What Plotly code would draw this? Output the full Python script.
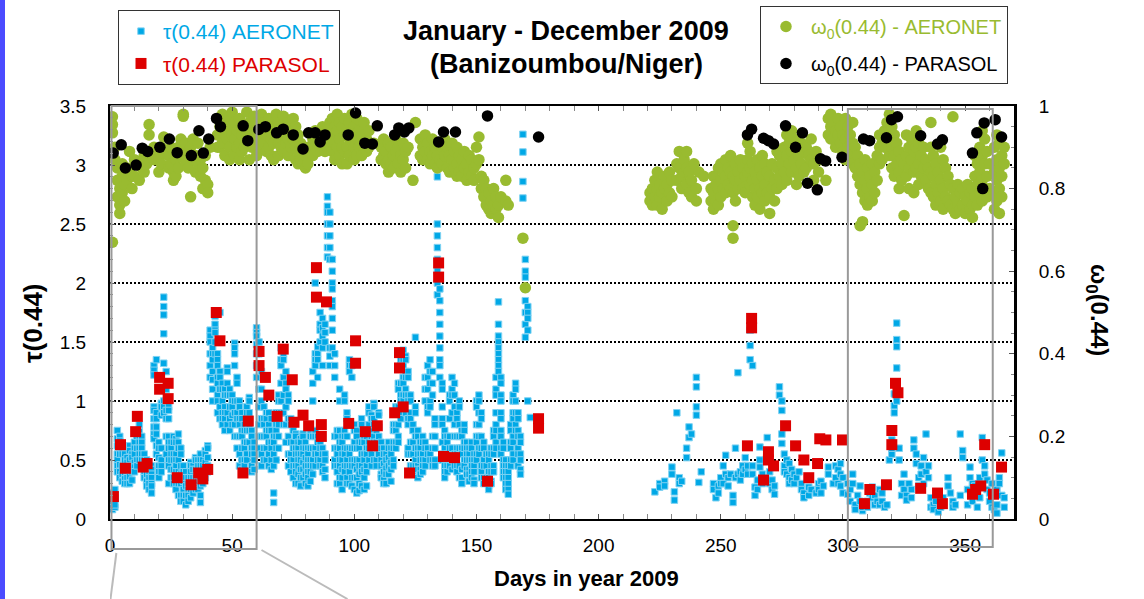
import plotly.graph_objects as go

# ---------------- data ----------------
# AERONET aerosol optical depth tau(0.44): (day, [values measured that day])
aer_tau_obs = [
    (1, [0.08, 0.12, 0.15, 0.2, 0.22]), (2, [0.1, 0.12, 0.18, 0.25]),
    (3, [0.75, 0.68, 0.62, 0.55, 0.5, 0.45, 0.4]), (4, [0.7, 0.66, 0.55, 0.46, 0.4, 0.35]),
    (5, [0.6, 0.55, 0.45, 0.38, 0.32]), (6, [0.55, 0.5, 0.42, 0.38, 0.34, 0.3]),
    (7, [0.52, 0.48, 0.4, 0.35, 0.3]), (8, [0.62, 0.58, 0.5, 0.45, 0.4, 0.36, 0.3]),
    (9, [0.55, 0.52, 0.45, 0.4, 0.33]), (10, [0.65, 0.6, 0.55, 0.48, 0.44, 0.4]),
    (11, [0.72, 0.7, 0.6, 0.5, 0.45]), (12, [0.8, 0.74, 0.7, 0.65, 0.6, 0.55, 0.5]),
    (13, [0.7, 0.65, 0.6, 0.55, 0.5, 0.45]), (14, [0.55, 0.5, 0.45, 0.4, 0.35]),
    (15, [0.5, 0.45, 0.4, 0.38, 0.32, 0.28]), (16, [0.45, 0.4, 0.35, 0.3, 0.25]),
    (17, [0.45, 0.42, 0.38, 0.35, 0.3, 0.28, 0.22]),
    (18, [1.3, 1.26, 1.22, 0.95, 0.92, 0.85, 0.78, 0.72, 0.68]),
    (19, [1.35, 0.9, 0.85, 0.78, 0.72, 0.62, 0.55]), (20, [0.65, 0.6, 0.52, 0.45, 0.4, 0.35]),
    (21, [0.98, 0.95, 0.88, 0.6, 0.5, 0.45, 0.4]), (22, [1.88, 1.8, 1.73, 1.57, 1.32, 1.0, 0.95, 0.9]),
    (23, [1.25, 1.1, 1.0, 0.92, 0.85, 0.7, 0.55]), (24, [0.95, 0.92, 0.85, 0.7, 0.65, 0.6, 0.5, 0.45, 0.3]),
    (25, [0.65, 0.6, 0.55, 0.5, 0.42, 0.35]), (26, [0.7, 0.65, 0.55, 0.5, 0.42, 0.35, 0.3]),
    (27, [0.68, 0.65, 0.55, 0.5, 0.45, 0.4, 0.3, 0.25]), (28, [0.72, 0.65, 0.6, 0.5, 0.4, 0.3, 0.2]),
    (29, [0.6, 0.55, 0.45, 0.38, 0.3, 0.2, 0.15]), (30, [0.45, 0.4, 0.35, 0.32, 0.25, 0.2, 0.15]),
    (31, [0.4, 0.35, 0.3, 0.28, 0.2, 0.12]), (32, [0.35, 0.3, 0.25, 0.2, 0.15]),
    (33, [0.48, 0.45, 0.4, 0.35, 0.3, 0.25, 0.18]), (34, [0.45, 0.42, 0.35, 0.3, 0.22]),
    (35, [0.52, 0.5, 0.42, 0.35, 0.3, 0.25]), (36, [0.5, 0.45, 0.38, 0.32, 0.25]),
    (37, [0.55, 0.5, 0.45, 0.4, 0.34, 0.28, 0.2, 0.14]), (38, [0.5, 0.45, 0.4, 0.38, 0.3]),
    (39, [0.58, 0.55, 0.48, 0.4, 0.35]), (40, [0.62, 0.6, 0.52, 0.45, 0.4]),
    (41, [1.6, 1.55, 1.5, 1.4, 1.3, 1.2]), (42, [1.45, 1.4, 1.35, 1.25, 1.18, 1.1, 1.0]),
    (43, [1.72, 1.65, 1.6, 1.58, 1.5, 1.4]), (44, [1.4, 1.35, 1.3, 1.2, 1.15, 1.05, 1.0, 0.9]),
    (45, [1.75, 1.25, 1.2, 1.1, 0.95, 0.85]), (46, [1.15, 1.1, 1.0, 0.9, 0.85, 0.8]),
    (47, [1.1, 1.05, 0.95, 0.9, 0.85, 0.75]), (48, [1.28, 1.25, 1.15, 1.05, 0.9, 0.8]),
    (49, [1.1, 1.05, 0.95, 0.85, 0.75]), (50, [1.05, 1.0, 0.95, 0.88, 0.8]),
    (51, [1.49, 1.45, 1.4, 1.3, 1.0, 0.9, 0.8, 0.7]), (52, [1.2, 1.15, 1.0, 0.9, 0.85, 0.7, 0.6]),
    (53, [1.0, 0.95, 0.85, 0.8, 0.7, 0.55, 0.45]), (54, [0.9, 0.85, 0.75, 0.7, 0.6, 0.5, 0.42]),
    (55, [0.8, 0.75, 0.65, 0.6, 0.5, 0.45, 0.4]), (56, [0.95, 0.9, 0.75, 0.65, 0.55, 0.5]),
    (57, [1.03, 1.0, 0.9, 0.8, 0.75, 0.65]), (58, [0.75, 0.7, 0.6, 0.55, 0.45, 0.4]),
    (59, [0.65, 0.6, 0.55, 0.5, 0.42]), (60, [1.62, 1.58, 1.55, 1.48, 1.4, 1.3, 1.2]),
    (61, [1.5, 1.4, 1.1, 0.95, 0.8, 0.7, 0.6]), (62, [1.25, 1.1, 1.0, 0.85, 0.7, 0.55, 0.45]),
    (63, [0.95, 0.85, 0.8, 0.7, 0.6, 0.5]), (64, [0.9, 0.85, 0.75, 0.7, 0.6, 0.5]),
    (65, [0.9, 0.8, 0.75, 0.65, 0.55, 0.45]), (66, [0.85, 0.75, 0.65, 0.6, 0.5, 0.42]),
    (67, [0.7, 0.65, 0.55, 0.45, 0.22, 0.14]), (68, [0.9, 0.8, 0.75, 0.7, 0.6, 0.5]),
    (69, [1.05, 1.0, 0.9, 0.8, 0.7, 0.6]), (70, [1.45, 1.35, 1.3, 1.15, 1.0, 0.9]),
    (71, [1.4, 1.35, 1.2, 1.05, 0.9, 0.8]), (72, [1.25, 1.15, 1.1, 0.95, 0.8, 0.65]),
    (73, [1.05, 1.0, 0.85, 0.7, 0.55, 0.45]), (74, [0.85, 0.8, 0.65, 0.55, 0.5, 0.4]),
    (75, [0.78, 0.75, 0.65, 0.6, 0.5, 0.45, 0.35]), (76, [0.72, 0.7, 0.6, 0.55, 0.45, 0.4, 0.3]),
    (77, [0.65, 0.6, 0.55, 0.5, 0.45, 0.38, 0.3]), (78, [0.68, 0.65, 0.55, 0.5, 0.42, 0.35, 0.28]),
    (79, [0.72, 0.7, 0.6, 0.55, 0.48, 0.42, 0.35]), (80, [0.65, 0.6, 0.52, 0.45, 0.38, 0.3]),
    (81, [0.6, 0.55, 0.5, 0.45, 0.4, 0.35, 0.28]), (82, [0.72, 0.7, 0.6, 0.5, 0.45, 0.4, 0.32]),
    (83, [1.25, 1.15, 1.0, 0.7, 0.6, 0.5, 0.45, 0.38]),
    (84, [2.0, 1.4, 1.35, 1.3, 0.75, 0.7, 0.6, 0.55, 0.45]),
    (85, [1.46, 1.4, 1.35, 1.2, 0.7, 0.65, 0.55, 0.5]),
    (86, [1.75, 1.65, 1.6, 1.5, 0.65, 0.6, 0.5, 0.45]),
    (87, [1.7, 1.62, 1.55, 1.45, 1.3, 0.6, 0.55, 0.45, 0.4]),
    (88, [1.65, 1.58, 1.5, 0.55, 0.5, 0.42, 0.35]),
    (89, [2.73, 2.65, 2.6, 2.5, 2.4, 2.3, 2.22]),
    (90, [2.6, 2.5, 2.4, 2.3, 2.2, 1.45, 1.38, 1.3]),
    (91, [2.2, 2.1, 2.0, 1.95, 1.85, 1.8, 1.7, 1.6, 1.45]),
    (92, [1.4, 1.3, 1.2, 0.7, 0.6, 0.5, 0.45]), (93, [0.75, 0.7, 0.6, 0.55, 0.45, 0.4, 0.3]),
    (94, [1.1, 1.0, 0.75, 0.65, 0.6, 0.5, 0.45, 0.35, 0.3]),
    (95, [0.7, 0.65, 0.55, 0.5, 0.42, 0.35, 0.25]),
    (96, [1.05, 1.0, 0.75, 0.7, 0.6, 0.55, 0.45, 0.4]),
    (97, [0.9, 0.85, 0.7, 0.6, 0.5, 0.45, 0.35, 0.3]),
    (98, [1.35, 1.3, 1.25, 0.6, 0.55, 0.45, 0.4, 0.3]),
    (99, [1.3, 1.2, 0.6, 0.5, 0.45, 0.35, 0.28]),
    (100, [0.8, 0.75, 0.65, 0.6, 0.5, 0.45, 0.35, 0.25]),
    (101, [0.75, 0.7, 0.6, 0.5, 0.42, 0.35, 0.22]), (102, [0.65, 0.6, 0.5, 0.45, 0.38, 0.3, 0.24]),
    (103, [0.85, 0.8, 0.65, 0.55, 0.45, 0.4, 0.28]), (104, [0.7, 0.65, 0.55, 0.5, 0.42, 0.35, 0.25]),
    (105, [0.75, 0.7, 0.6, 0.55, 0.45, 0.4, 0.28]), (106, [0.95, 0.9, 0.8, 0.75, 0.65, 0.6, 0.5]),
    (107, [0.88, 0.85, 0.75, 0.7, 0.6, 0.55, 0.45]), (108, [0.98, 0.95, 0.85, 0.8, 0.7, 0.65, 0.5]),
    (109, [0.8, 0.75, 0.65, 0.6, 0.5, 0.45]), (110, [0.9, 0.88, 0.78, 0.7, 0.6, 0.55]),
    (111, [0.65, 0.6, 0.5, 0.45, 0.38, 0.35]), (112, [0.6, 0.55, 0.47, 0.4, 0.33, 0.3]),
    (113, [0.55, 0.5, 0.43, 0.38, 0.3]), (114, [0.65, 0.6, 0.52, 0.45, 0.38]),
    (115, [0.6, 0.55, 0.48, 0.42, 0.32]), (116, [0.8, 0.75, 0.65, 0.6, 0.5, 0.45]),
    (117, [0.95, 0.9, 0.8, 0.75, 0.65, 0.6]), (118, [1.15, 1.1, 0.95, 0.9, 0.8, 0.7, 0.65]),
    (119, [1.35, 1.3, 1.15, 1.05, 1.0, 0.9, 0.85]), (120, [1.43, 1.35, 1.3, 1.2, 1.15, 1.05, 1.0]),
    (121, [1.38, 1.35, 1.25, 1.2, 1.1, 1.05, 0.9]), (122, [1.25, 1.2, 1.05, 1.0, 0.85, 0.8, 0.6, 0.55]),
    (123, [1.05, 1.0, 0.9, 0.85, 0.65, 0.55, 0.45]), (124, [0.8, 0.75, 0.65, 0.55, 0.45, 0.4]),
    (125, [1.54, 0.95, 0.9, 0.7, 0.6, 0.5, 0.45]), (126, [0.75, 0.7, 0.6, 0.55, 0.45, 0.42, 0.35]),
    (127, [0.65, 0.6, 0.55, 0.5, 0.42, 0.38]), (128, [0.7, 0.65, 0.55, 0.5, 0.45, 0.4]),
    (129, [1.2, 1.1, 1.0, 0.65, 0.6, 0.5, 0.45]), (130, [1.3, 1.2, 1.1, 0.95, 0.9, 0.6, 0.55]),
    (131, [1.35, 1.25, 1.15, 1.0, 0.95, 0.55, 0.5]), (132, [1.25, 1.15, 1.05, 0.7, 0.6, 0.5, 0.45]),
    (133, [0.85, 0.8, 0.7, 0.6, 0.5, 0.45]), (134, [2.9, 2.5, 2.4, 2.3, 2.2, 2.1, 2.0, 1.9]),
    (135, [1.95, 1.85, 1.75, 1.65, 1.55, 1.45, 1.35, 1.3, 1.2]),
    (136, [1.15, 1.1, 0.95, 0.85, 0.8, 0.65, 0.55, 0.5]), (137, [0.75, 0.7, 0.6, 0.55, 0.45, 0.4, 0.35]),
    (138, [0.7, 0.65, 0.55, 0.5, 0.45, 0.4]), (139, [1.05, 1.0, 0.85, 0.7, 0.6, 0.5, 0.45]),
    (140, [1.2, 1.1, 1.05, 0.9, 0.6, 0.5, 0.42]), (141, [1.15, 1.05, 0.95, 0.8, 0.7, 0.55, 0.45]),
    (142, [0.9, 0.85, 0.7, 0.6, 0.55, 0.45, 0.4]), (143, [1.0, 0.95, 0.8, 0.7, 0.6, 0.45, 0.35]),
    (144, [0.75, 0.7, 0.6, 0.55, 0.42, 0.35, 0.3]), (145, [0.8, 0.75, 0.65, 0.6, 0.5, 0.45]),
    (146, [0.65, 0.6, 0.55, 0.5, 0.42, 0.38]), (147, [0.6, 0.55, 0.5, 0.42, 0.38, 0.32]),
    (148, [0.65, 0.6, 0.5, 0.45, 0.4, 0.35]), (149, [0.55, 0.5, 0.45, 0.4, 0.33, 0.3]),
    (150, [1.0, 0.95, 0.8, 0.7, 0.65, 0.55, 0.5]), (151, [1.05, 1.0, 0.9, 0.8, 0.7, 0.6, 0.55]),
    (152, [0.9, 0.85, 0.7, 0.6, 0.45, 0.4, 0.35]), (153, [0.65, 0.6, 0.5, 0.45, 0.35, 0.3]),
    (154, [0.55, 0.45, 0.35]), (155, [0.55, 0.5, 0.4, 0.35, 0.28, 0.25]),
    (156, [0.6, 0.55, 0.45, 0.4, 0.32, 0.3]), (157, [0.75, 0.7, 0.6, 0.55, 0.45, 0.4]),
    (158, [1.2, 1.1, 1.05, 0.9, 0.8, 0.75, 0.65, 0.6]),
    (159, [1.84, 1.65, 1.55, 1.5, 1.45, 1.4, 1.35, 1.3, 1.25]),
    (160, [1.2, 1.15, 1.05, 1.0, 0.9, 0.85, 0.75, 0.7, 0.6, 0.55]),
    (161, [0.65, 0.6, 0.5, 0.45, 0.4, 0.35]), (162, [0.5, 0.45, 0.4, 0.35, 0.3, 0.25]),
    (163, [0.45, 0.4, 0.35, 0.3, 0.25, 0.21]), (164, [0.8, 0.75, 0.65, 0.6, 0.5, 0.45]),
    (165, [1.05, 1.0, 0.9, 0.85, 0.7, 0.65, 0.55, 0.5]), (166, [1.15, 1.1, 1.0, 0.9, 0.8, 0.75]),
    (167, [0.9, 0.85, 0.75, 0.7, 0.6, 0.55, 0.45]), (168, [0.7, 0.65, 0.55, 0.5, 0.42, 0.38]),
    (169, [3.26, 3.11, 2.86, 2.72]), (170, [2.2, 2.1, 2.05, 1.95, 1.85, 1.75, 1.65, 1.54]),
    (171, [1.8, 1.75, 1.7, 1.6, 1.0]), (172, [0.86]),
    (223, [0.23]), (225, [0.3, 0.27]), (227, [0.32, 0.28]), (230, [0.44, 0.38]), (231, [0.23, 0.16]),
    (232, [0.9]), (233, [0.35, 0.3]), (234, [0.32]), (236, [0.52, 0.6]), (237, [0.69, 0.78]),
    (238, [0.72]), (240, [1.2, 1.12, 0.95, 0.88]), (241, [0.31]), (242, [0.4]), (247, [0.3, 0.25]),
    (248, [0.18]), (249, [0.28, 0.22]), (250, [0.35, 0.3]), (251, [0.45, 0.3]), (252, [0.54, 0.38]),
    (253, [0.35, 0.28]), (254, [0.38]), (255, [0.14, 0.2]), (256, [0.6, 0.35]), (257, [1.24, 0.38]),
    (258, [0.4, 0.33]), (259, [0.45, 0.38]), (260, [0.52, 0.42]), (261, [0.45, 0.38]),
    (262, [1.6, 1.47, 1.35]), (263, [1.3, 0.45, 0.38]), (264, [0.27, 0.2]), (265, [0.33, 0.25]),
    (266, [0.61, 0.5, 0.44]), (267, [0.38, 0.3]), (269, [0.69]), (270, [0.4, 0.3]), (271, [0.33, 0.25]),
    (272, [0.28, 0.21]), (274, [1.12, 1.05]), (275, [1.0, 0.92, 0.72, 0.64]), (276, [0.55, 0.45, 0.4]),
    (277, [0.5, 0.38]), (278, [0.47, 0.35, 0.3]), (279, [0.42, 0.33]), (280, [0.38, 0.3]), (281, [0.35]),
    (282, [0.4]), (283, [0.3, 0.25]), (284, [0.22, 0.18]), (286, [0.27, 0.2]), (287, [0.25]),
    (289, [0.22]), (290, [0.3, 0.25]), (291, [0.32, 0.22]), (292, [0.28]), (294, [0.44, 0.38]),
    (296, [0.3]), (297, [0.45, 0.35]), (298, [0.42, 0.3]), (299, [0.47, 0.38, 0.28]), (300, [0.35, 0.22]),
    (302, [0.3, 0.21]), (303, [0.25, 0.15]), (304, [0.38, 0.3]), (305, [0.12, 0.08]), (306, [0.2]),
    (307, [0.28, 0.15]), (308, [0.07, 0.1]), (310, [0.15, 0.1]), (311, [0.22]), (312, [0.27, 0.18]),
    (313, [0.2, 0.12]), (314, [0.15]), (315, [0.25, 0.12]), (316, [0.22, 0.15]), (317, [0.1]),
    (318, [0.12]), (319, [0.5]), (320, [0.67, 0.55, 0.6]), (321, [1.06, 0.96, 0.9]),
    (322, [1.66, 1.52, 1.46, 1.28, 1.0]), (323, [0.6, 0.5]), (324, [0.3, 0.2]), (325, [0.38, 0.25]),
    (326, [0.2, 0.16]), (327, [0.3]), (328, [0.25, 0.18]), (329, [0.67, 0.6]), (330, [0.55, 0.47]),
    (331, [0.35, 0.28]), (332, [0.45, 0.38]), (333, [0.52, 0.3]), (334, [0.72, 0.4]), (335, [0.35, 0.45]),
    (336, [0.18, 0.1]), (337, [0.12, 0.08]), (338, [0.15]), (339, [0.06]), (340, [0.1]), (341, [0.18]),
    (343, [0.35, 0.28]), (344, [0.22]), (345, [0.15, 0.1]), (346, [0.12]), (348, [0.72, 0.2]),
    (349, [0.58, 0.52]), (351, [0.25, 0.12]), (352, [0.44, 0.35]), (353, [0.3, 0.15]), (354, [0.28, 0.2]),
    (355, [0.22, 0.1]), (356, [0.35, 0.18]), (357, [0.69, 0.5]), (358, [0.45, 0.38]), (359, [0.33, 0.25]),
    (360, [0.22, 0.15]), (361, [0.3, 0.1]), (362, [0.2, 0.08]), (363, [0.05, 0.12, 0.25]),
    (364, [0.35, 0.3]), (365, [0.56, 0.45, 0.2]), (366, [0.18, 0.1]),
]

# PARASOL tau(0.44)
par_tau_day = [1.4, 4.3, 6.3, 10.5, 11.2, 13.6, 15.2, 20.3, 20.3, 23.8, 23.8, 27.5, 33.2, 36.3, 38, 40,
               43.5, 45, 54.4, 56.6, 61, 61, 63.6, 65, 68.4, 70.9, 74.6, 75.3, 79, 81.3, 84.5, 84.5,
               86.5, 86.5, 88.6, 97.7, 100.5, 100.5, 104.5, 107.5, 109.4, 116.5, 118.5, 118.5, 120,
               122.6, 134.5, 134.5, 136.5, 141, 154.5, 175.4, 175.4,
               260.9, 262.6, 262.6, 267.5, 269.5, 269.5, 271.6, 276.5, 280.6, 284, 286, 289.6, 290.5,
               293, 299.8, 308.8, 311, 317.8, 320, 320, 321.5, 322.5, 331.8, 338.7, 340.7, 353, 354.3,
               356.4, 358, 361.6, 364.9]
par_tau_val = [0.19, 0.63, 0.43, 0.74, 0.87, 0.44, 0.47, 1.2, 1.1, 1.15, 1.02, 0.35, 0.29, 0.39, 0.34, 0.42,
               1.75, 1.51, 0.39, 0.83, 1.42, 1.3, 1.2, 1.05, 0.87, 1.44, 1.18, 0.82, 0.88, 0.79, 2.13, 1.88,
               0.7, 0.8, 1.84, 0.81, 1.51, 1.32, 0.74, 0.62, 0.79, 0.9, 1.41, 1.28, 0.95,
               0.39, 2.17, 2.05, 0.53, 0.52, 0.32, 0.85, 0.77,
               0.62, 1.7, 1.62, 0.33, 0.57, 0.5, 0.45, 0.79, 0.62, 0.5, 0.35, 0.47, 0.68,
               0.67, 0.67, 0.13, 0.25, 0.29, 0.75, 0.63, 1.15, 1.07, 0.26, 0.22, 0.13, 0.21, 0.25,
               0.28, 0.63, 0.21, 0.44]

# AERONET single scattering albedo w0(0.44): (day, [values])
aer_w_obs = [
    (1, [0.974, 0.955, 0.935, 0.877, 0.67]), (2, [0.9, 0.87]), (3, [0.85, 0.82, 0.78]), (4, [0.8, 0.76, 0.74]),
    (5, [0.86, 0.83, 0.79]), (6, [0.81, 0.77]), (7, [0.85, 0.82]), (8, [0.89, 0.84]), (9, [0.83, 0.8]),
    (10, [0.87, 0.83]), (12, [0.86, 0.82]), (13, [0.85]), (14, [0.88, 0.84]), (15, [0.86]),
    (16, [0.955, 0.93]), (18, [0.9, 0.87]), (19, [0.88]), (20, [0.87, 0.84]), (21, [0.9, 0.86]),
    (22, [0.925, 0.89]), (24, [0.88, 0.85]), (25, [0.9, 0.86]), (26, [0.89, 0.84, 0.82]),
    (27, [0.87, 0.83]), (28, [0.9, 0.85]), (29, [0.92, 0.88]), (30, [0.98, 0.975]), (31, [0.91, 0.86]),
    (32, [0.89, 0.85]), (33, [0.78, 0.9]), (34, [0.92, 0.87]), (35, [0.88, 0.84]), (36, [0.91, 0.86]),
    (37, [0.87, 0.83]), (38, [0.85, 0.8]), (39, [0.88, 0.82]), (40, [0.81, 0.79]), (41, [0.9]),
    (44, [0.97, 0.93, 0.9]), (45, [0.95, 0.9]), (46, [0.98, 0.94, 0.91]), (47, [0.93, 0.88]),
    (48, [0.97, 0.92]), (49, [0.95, 0.9, 0.87]), (50, [0.985, 0.93]), (51, [0.96, 0.92, 0.88]),
    (52, [0.94, 0.9]), (53, [0.97, 0.91, 0.87]), (54, [0.93, 0.89]), (55, [0.95, 0.9]),
    (56, [0.985, 0.93]), (57, [0.96, 0.91, 0.87]), (58, [0.94, 0.9]), (59, [0.975, 0.92]),
    (60, [0.96, 0.92, 0.88]), (62, [0.98, 0.94, 0.9]), (63, [0.96, 0.91]), (64, [0.93, 0.89]),
    (65, [0.97, 0.94, 0.9]), (66, [0.92, 0.88]), (67, [0.95, 0.91, 0.87]), (68, [0.98, 0.93]),
    (69, [0.96, 0.91, 0.88]), (70, [0.94, 0.9]), (71, [0.975, 0.93, 0.89]), (72, [0.95, 0.91]),
    (73, [0.96, 0.92, 0.88]), (74, [0.94, 0.9]), (75, [0.97, 0.92]), (76, [0.95, 0.9, 0.87]),
    (77, [0.93, 0.89, 0.86]), (78, [0.91, 0.87]), (79, [0.9, 0.86]), (80, [0.88, 0.85]),
    (81, [0.9, 0.86]), (82, [0.89]), (83, [0.92, 0.88]), (84, [0.94, 0.9]), (85, [0.91, 0.89]),
    (86, [0.93, 0.9]), (87, [0.95, 0.91]), (88, [0.92, 0.89]), (89, [0.94, 0.9]), (90, [0.96, 0.92]),
    (91, [0.97, 0.93, 0.89]), (92, [0.95, 0.91, 0.87]), (93, [0.98, 0.94, 0.9]), (94, [0.96, 0.92, 0.88]),
    (95, [0.95, 0.9, 0.86]), (96, [0.97, 0.93, 0.89]), (97, [0.94, 0.9, 0.86]), (98, [0.96, 0.92, 0.88]),
    (99, [0.98, 0.93]), (100, [0.95, 0.9, 0.87]), (101, [0.97, 0.92, 0.88]), (102, [0.94, 0.9]),
    (103, [0.93, 0.88]), (104, [0.96, 0.91]), (105, [0.92, 0.89]), (106, [0.94, 0.9]), (108, [0.91]),
    (111, [0.9, 0.87]), (112, [0.92, 0.88]), (113, [0.89, 0.86]), (114, [0.91, 0.87, 0.84]),
    (115, [0.9, 0.86]), (116, [0.88, 0.85]), (117, [0.92, 0.89]), (118, [0.9, 0.86]), (119, [0.88, 0.84]),
    (120, [0.91, 0.87]), (121, [0.89, 0.85]), (122, [0.9]), (124, [0.82]), (125, [0.96]),
    (127, [0.92, 0.88]), (128, [0.9, 0.87]), (129, [0.93, 0.89]), (130, [0.91, 0.87]), (131, [0.89, 0.86]),
    (132, [0.92, 0.88]), (133, [0.9, 0.86]), (134, [0.88, 0.85]), (135, [0.91, 0.87]), (136, [0.9, 0.86]),
    (137, [0.92, 0.88]), (138, [0.9, 0.85]), (139, [0.88, 0.84]), (140, [0.91, 0.87]), (141, [0.89, 0.85]),
    (142, [0.9, 0.86, 0.83]), (143, [0.88, 0.84]), (144, [0.87, 0.83]), (145, [0.89, 0.85]),
    (146, [0.86, 0.82]), (147, [0.88, 0.84]), (148, [0.87, 0.83]), (149, [0.85, 0.82]), (150, [0.9, 0.86]),
    (151, [0.925, 0.87]), (152, [0.83, 0.8]), (153, [0.82, 0.78]), (154, [0.8, 0.76]), (155, [0.79, 0.75]),
    (156, [0.77, 0.74]), (157, [0.8, 0.76]), (158, [0.78, 0.75]), (159, [0.76, 0.73]), (160, [0.78]),
    (162, [0.82, 0.77]), (163, [0.76]), (169, [0.68]), (170, [0.56]),
    (221, [0.79, 0.77]), (222, [0.8, 0.76]), (223, [0.82, 0.78]), (224, [0.84, 0.8, 0.76]),
    (225, [0.81, 0.78]), (226, [0.79, 0.75]), (227, [0.83, 0.8]), (228, [0.81, 0.77]), (229, [0.84, 0.79]),
    (230, [0.82, 0.78]), (232, [0.86, 0.82]), (233, [0.89, 0.85]), (234, [0.83, 0.8]), (235, [0.87, 0.84]),
    (236, [0.89, 0.85, 0.81]), (237, [0.84, 0.79]), (238, [0.82, 0.78]), (239, [0.86]), (240, [0.8, 0.77]),
    (241, [0.84]), (243, [0.83]), (246, [0.8, 0.77]), (247, [0.83, 0.79, 0.75]), (248, [0.81, 0.77]),
    (249, [0.85, 0.8, 0.76]), (250, [0.86, 0.82, 0.78]), (251, [0.84, 0.8]), (252, [0.87, 0.83, 0.79]),
    (253, [0.85, 0.81]), (254, [0.88, 0.84, 0.8]), (255, [0.83, 0.79, 0.71, 0.68]), (256, [0.86, 0.82, 0.77]),
    (257, [0.84, 0.8]), (258, [0.87, 0.82]), (259, [0.85, 0.8]), (260, [0.83, 0.79]),
    (261, [0.91, 0.87, 0.84]), (262, [0.89, 0.85, 0.81]), (263, [0.86, 0.82, 0.78]), (264, [0.84, 0.8, 0.76]),
    (265, [0.87, 0.82, 0.78]), (266, [0.85, 0.8, 0.75]), (267, [0.88, 0.83, 0.79]), (268, [0.86, 0.81, 0.77]),
    (269, [0.84, 0.79]), (270, [0.83, 0.78, 0.74]), (271, [0.86, 0.8]), (272, [0.82, 0.77]),
    (273, [0.89, 0.85, 0.8]), (274, [0.88, 0.83]), (275, [0.86, 0.81]), (276, [0.9, 0.84]),
    (277, [0.93, 0.88, 0.82]), (278, [0.91, 0.86]), (279, [0.94, 0.89, 0.84]), (280, [0.92, 0.87]),
    (281, [0.9, 0.85, 0.81]), (282, [0.88, 0.83]), (283, [0.91, 0.86]), (284, [0.89, 0.84]),
    (285, [0.9, 0.85]), (286, [0.88]), (287, [0.92, 0.87]), (288, [0.86, 0.82]), (289, [0.89]),
    (290, [0.84]), (291, [0.87]), (293, [0.82]), (294, [0.97, 0.93]), (295, [0.98, 0.95, 0.92]),
    (296, [0.96, 0.92]), (297, [0.94, 0.9]), (298, [0.97, 0.93]), (299, [0.95, 0.91]), (300, [0.93, 0.89]),
    (301, [0.97, 0.92, 0.87]), (302, [0.95, 0.9]), (303, [0.93, 0.88]), (304, [0.96, 0.91, 0.86]),
    (305, [0.9, 0.85]), (306, [0.88, 0.83]), (307, [0.86, 0.81, 0.71]), (308, [0.84, 0.79, 0.72]),
    (309, [0.87, 0.82, 0.77]), (310, [0.85, 0.8, 0.76]), (311, [0.83, 0.78]), (312, [0.86, 0.81, 0.77]),
    (313, [0.84, 0.79]), (314, [0.88, 0.82]), (315, [0.93, 0.9, 0.86]), (316, [0.91, 0.87]),
    (317, [0.94, 0.9]), (318, [0.96, 0.92]), (319, [0.98, 0.93, 0.88]), (320, [0.95, 0.9, 0.85]),
    (321, [0.93, 0.88, 0.83]), (322, [0.91, 0.86]), (323, [0.89, 0.84, 0.8]), (324, [0.87, 0.82]),
    (325, [0.735, 0.86]), (326, [0.93, 0.88, 0.83]), (327, [0.9, 0.85, 0.8]), (328, [0.92, 0.87]),
    (329, [0.89, 0.84, 0.79]), (330, [0.94, 0.9, 0.85]), (331, [0.91, 0.86, 0.81]), (332, [0.88, 0.83]),
    (333, [0.9, 0.85]), (334, [0.87, 0.82]), (335, [0.85, 0.8]), (336, [0.96, 0.9, 0.84, 0.79]),
    (337, [0.88, 0.83, 0.78]), (338, [0.86, 0.81, 0.76]), (339, [0.84, 0.79]), (340, [0.9, 0.82, 0.77]),
    (341, [0.87, 0.8, 0.75]), (342, [0.85, 0.78]), (343, [0.83, 0.77]), (344, [0.81, 0.76]),
    (345, [0.974, 0.8, 0.75]), (346, [0.78, 0.74]), (347, [0.81, 0.76]), (348, [0.79, 0.75]),
    (349, [0.8, 0.76]), (350, [0.78, 0.74]), (351, [0.81, 0.77]), (352, [0.79, 0.75]),
    (353, [0.8, 0.76, 0.73]), (354, [0.88, 0.83, 0.78]), (355, [0.86, 0.81, 0.76]), (356, [0.9, 0.84, 0.79]),
    (357, [0.94, 0.88, 0.82, 0.77]), (358, [0.92, 0.86, 0.8]), (359, [0.89, 0.83, 0.78]), (360, [0.86, 0.8]),
    (362, [0.9, 0.84, 0.79, 0.75]), (363, [0.93, 0.87, 0.82, 0.77]), (364, [0.91, 0.85, 0.8, 0.74]),
    (365, [0.88, 0.83, 0.78]), (366, [0.9, 0.86]),
]

# PARASOL w0(0.44)
par_w_day = [1.3, 4.6, 6.3, 10.7, 13.2, 15.4, 20.4, 24.3, 27.5, 33.3, 36.4, 38.2, 40.4, 43.6, 45.2, 54.5,
             56.4, 60.9, 63.6, 68.2, 70.9, 75, 79, 81.3, 84, 86, 88, 97.5, 100.5, 104.3, 107.4, 109.4,
             116.5, 118.2, 120.5, 122.3, 134.5, 136.5, 141.4, 154.5, 175.4,
             260.9, 262.6, 267.5, 269.5, 271.6, 276.5, 280.6, 283.4, 285.5, 289.5, 290.8, 292.9, 299.6,
             308.4, 310.9, 317.8, 319.9, 322.3, 331.8, 338.7, 340.7, 353, 354.8, 357.2, 357.8, 362.3, 364.9]
par_w_val = [0.886, 0.906, 0.85, 0.857, 0.898, 0.89, 0.9, 0.92, 0.887, 0.88, 0.94, 0.886, 0.92, 0.97, 0.95, 0.952,
             0.916, 0.943, 0.95, 0.935, 0.944, 0.93, 0.896, 0.935, 0.935, 0.913, 0.93, 0.93, 0.983, 0.91, 0.908, 0.952,
             0.93, 0.947, 0.937, 0.947, 0.913, 0.937, 0.937, 0.976, 0.925,
             0.93, 0.944, 0.922, 0.916, 0.908, 0.952, 0.9, 0.935, 0.813, 0.797, 0.872, 0.867, 0.876,
             0.92, 0.916, 0.923, 0.967, 0.974, 0.928, 0.908, 0.918, 0.886, 0.935, 0.8, 0.959, 0.967, 0.925]

x_ticks = [0, 50, 100, 150, 200, 250, 300, 350]
tau_ticks = [0, 0.5, 1, 1.5, 2, 2.5, 3, 3.5]
w_ticks = [0, 0.2, 0.4, 0.6, 0.8, 1]

# ---------------- styling ----------------
FONT = "Liberation Sans, Arial, Helvetica, sans-serif"
BLUE = "#00a8e6"
BLUE_EDGE = "#7fd2f2"
RED = "#dd0000"
GREEN = "#99bb30"
BLACK = "#000000"


def flatten(obs):
    xs, ys = [], []
    for d, vals in obs:
        for v in vals:
            xs.append(d)
            ys.append(v)
    return xs, ys


ax_x, ax_y = flatten(aer_tau_obs)
aw_x, aw_y = flatten(aer_w_obs)

fig = go.Figure()
fig.add_trace(go.Scatter(
    x=ax_x, y=ax_y, mode="markers", yaxis="y", legend="legend", legendgroup="a",
    marker=dict(symbol="square", size=6.5, color=BLUE, line=dict(width=1, color=BLUE_EDGE)),
    name='<span style="color:#00a8e6">τ(0.44) AERONET</span>'))
fig.add_trace(go.Scatter(
    x=par_tau_day, y=par_tau_val, mode="markers", yaxis="y", legend="legend", legendgroup="b",
    marker=dict(symbol="square", size=11, color=RED, line=dict(width=0)),
    name='<span style="color:#dd0000">τ(0.44) PARASOL</span>'))
fig.add_trace(go.Scatter(
    x=aw_x, y=aw_y, mode="markers", yaxis="y2", legend="legend2", legendgroup="c",
    marker=dict(symbol="circle", size=11.5, color=GREEN, line=dict(width=0)),
    name='<span style="color:#99bb30">ω<sub>0</sub>(0.44) - AERONET</span>'))
fig.add_trace(go.Scatter(
    x=par_w_day, y=par_w_val, mode="markers", yaxis="y2", legend="legend2", legendgroup="d",
    marker=dict(symbol="circle", size=11.5, color=BLACK, line=dict(width=0)),
    name='ω<sub>0</sub>(0.44) - PARASOL'))

W, H = 1144, 599
L, R, T, B = 110, 130, 106, 80
PW, PH = W - L - R, H - T - B


def px(xp):
    return (xp - L) / PW


def py(yp):
    return (H - B - yp) / PH


tickfont = dict(family=FONT, size=19, color="black")

fig.update_layout(
    width=W, height=H,
    margin=dict(l=L, r=R, t=T, b=B, pad=0, autoexpand=False),
    paper_bgcolor="white", plot_bgcolor="white",
    font=dict(family=FONT, color="black"),
    showlegend=True,
    xaxis=dict(
        range=[0, 370], tickvals=x_ticks, ticks="inside", ticklen=5, tickwidth=1, tickcolor="#555",
        minor=dict(dtick=10, ticks="inside", ticklen=3, tickcolor="#888"),
        showline=True, linecolor="black", linewidth=2, mirror="allticks",
        showgrid=False, zeroline=False, tickfont=tickfont, ticklabelstandoff=8, automargin=False,
    ),
    yaxis=dict(
        range=[0, 3.5], tickvals=tau_ticks, ticks="inside", ticklen=5, tickcolor="#555",
        minor=dict(dtick=0.1, ticks="inside", ticklen=3, tickcolor="#888"),
        showline=True, linecolor="black", linewidth=2, mirror=True,
        showgrid=True, gridcolor="black", gridwidth=2, griddash="2px,2px",
        zeroline=False, tickfont=tickfont, ticklabelstandoff=18, automargin=False,
    ),
    yaxis2=dict(
        range=[0, 1], tickvals=w_ticks, overlaying="y", side="right", anchor="x",
        ticks="inside", ticklen=5, tickcolor="#555",
        minor=dict(dtick=0.05, ticks="inside", ticklen=3, tickcolor="#888"),
        showline=True, linecolor="black", linewidth=3,
        showgrid=False, zeroline=False, tickfont=tickfont, ticklabelstandoff=18, automargin=False,
    ),
    legend=dict(
        xref="container", yref="container", x=118 / W, y=1 - 10 / H, xanchor="left", yanchor="top",
        bgcolor="white", bordercolor="#333", borderwidth=1, itemwidth=34, tracegroupgap=2,
        font=dict(family=FONT, size=21), traceorder="grouped", itemclick=False,
    ),
    legend2=dict(
        xref="container", yref="container", x=760 / W, y=1 - 6 / H, xanchor="left", yanchor="top",
        bgcolor="white", bordercolor="#333", borderwidth=1, itemwidth=40, tracegroupgap=8,
        font=dict(family=FONT, size=20, color="black"), traceorder="grouped", itemclick=False,
    ),
)

# highlight boxes and zoom lines
shapes = [
    dict(type="rect", xref="paper", yref="paper", x0=px(0), x1=px(5), y0=py(599), y1=py(0),
         fillcolor="#4b4bff", line=dict(width=0), layer="above"),
    dict(type="rect", xref="x", yref="paper", x0=0.6, x1=60, y0=py(549), y1=py(106),
         line=dict(color="#999999", width=2), layer="above"),
    dict(type="rect", xref="x", yref="paper", x0=302, x1=361.3, y0=py(547), y1=py(109),
         line=dict(color="#999999", width=2), layer="above"),
    dict(type="line", xref="x", yref="paper", x0=2.6, x1=0.2, y0=py(553), y1=py(599),
         line=dict(color="#bbbbbb", width=2)),
    dict(type="line", xref="x", yref="paper", x0=62, x1=97.2, y0=py(550), y1=py(599),
         line=dict(color="#bbbbbb", width=2)),
]
fig.update_layout(shapes=shapes)

anns = []
for txt, yp in [("<b>January - December 2009</b>", 31), ("<b>(Banizoumbou/Niger)</b>", 64)]:
    anns.append(dict(text=txt, x=px(566), y=py(yp), xref="paper", yref="paper", showarrow=False,
                     xanchor="center", yanchor="middle", font=dict(family=FONT, size=27, color="black")))
anns.append(dict(text="<b>Days in year 2009</b>", x=px(586), y=py(578), xref="paper", yref="paper",
                 showarrow=False, xanchor="center", yanchor="middle",
                 font=dict(family=FONT, size=22, color="black")))
anns.append(dict(text="<b>τ(0.44)</b>", x=px(33), y=py(323), xref="paper", yref="paper",
                 showarrow=False, xanchor="center", yanchor="middle", textangle=-90,
                 font=dict(family=FONT, size=26, color="black")))
anns.append(dict(text="<b>ω<sub>0</sub>(0.44)</b>", x=px(1098), y=py(310), xref="paper", yref="paper",
                 showarrow=False, xanchor="center", yanchor="middle", textangle=90,
                 font=dict(family=FONT, size=24, color="black")))
fig.update_layout(annotations=anns)

fig.write_html("out.html")
